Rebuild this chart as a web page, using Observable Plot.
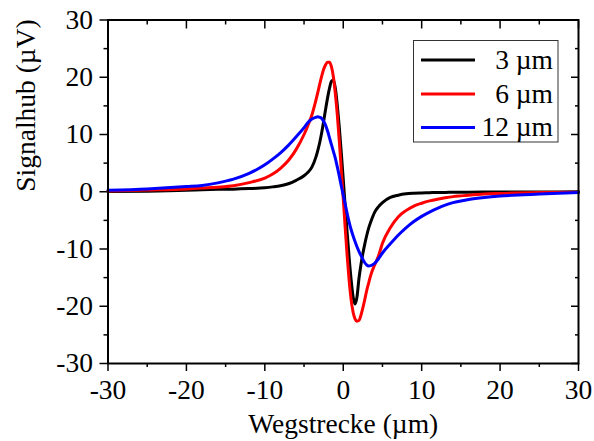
<!DOCTYPE html>
<html><head><meta charset="utf-8">
<script src="https://cdn.jsdelivr.net/npm/d3@7"></script>
<script src="https://cdn.jsdelivr.net/npm/@observablehq/plot@0.6"></script>
<style>html,body{margin:0;padding:0;background:#fff;} #chart{width:594px;height:441px;}
svg text{font-family:"Liberation Serif","DejaVu Serif",serif !important;}</style>
</head><body><div id="chart"></div>
<script>
// x positions (µm)
const xs = [-30, -25, -20, -18, -16, -14, -12, -10, -9, -8, -7, -6, -5, -4.5, -4, -3.5, -3.25, -3, -2.75, -2.5, -2.25, -2, -1.75, -1.5, -1.25, -1, -0.75, -0.5, -0.25, 0, 0.25, 0.5, 0.75, 1, 1.25, 1.5, 1.75, 2, 2.25, 2.5, 2.75, 3, 3.25, 3.5, 4, 4.5, 5, 6, 7, 8, 9, 10, 11, 12, 13, 14, 15, 16, 18, 20, 25, 30];
// 3 µm (black)
const black3 = [0.05, 0.1, 0.25, 0.35, 0.42, 0.45, 0.55, 0.7, 0.85, 1.05, 1.4, 2.0, 2.8, 3.4, 4.3, 6.0, 7.2, 8.6, 10.3, 12.3, 14.4, 16.4, 18.1, 19.3, 19.5, 18.0, 15.0, 11.2, 6.8, 2.2, -2.6, -7.2, -11.5, -15.3, -18.3, -19.6, -18.4, -15.2, -12.8, -10.8, -9.1, -7.6, -6.3, -5.3, -3.6, -2.6, -1.9, -1.0, -0.6, -0.35, -0.25, -0.2, -0.16, -0.12, -0.11, -0.1, -0.09, -0.08, -0.06, -0.05, -0.03, -0.02];
// 6 µm (red)
const red6 = [0.15, 0.3, 0.5, 0.65, 0.8, 1.05, 1.6, 2.4, 3.1, 4.1, 5.45, 7.4, 10.0, 11.6, 13.4, 15.9, 17.3, 18.8, 20.2, 21.4, 22.2, 22.6, 22.6, 21.8, 20.0, 17.0, 13.3, 8.8, 3.8, -1.2, -6.3, -11.2, -15.5, -18.8, -21.0, -22.2, -22.6, -22.5, -21.6, -20.3, -18.8, -17.2, -15.9, -14.6, -12.8, -11.2, -9.0, -6.3, -4.4, -3.3, -2.5, -2.0, -1.6, -1.3, -1.05, -0.85, -0.72, -0.6, -0.4, -0.3, -0.15, -0.1];
// 12 µm (blue)
const blue12 = [0.25, 0.5, 0.9, 1.1, 1.55, 2.2, 3.2, 4.7, 5.7, 6.8, 8.1, 9.6, 11.2, 12.1, 12.7, 13.0, 13.1, 13.0, 12.8, 12.3, 11.6, 10.6, 9.4, 8.2, 7.0, 5.8, 4.3, 2.7, 1.0, -0.6, -2.2, -3.8, -5.3, -6.6, -7.7, -8.7, -9.6, -10.4, -11.1, -11.8, -12.4, -12.8, -12.95, -12.9, -12.5, -11.7, -10.7, -9.1, -7.6, -6.3, -5.2, -4.3, -3.55, -2.9, -2.35, -1.9, -1.6, -1.35, -1.0, -0.75, -0.4, -0.15];

const seriesNames = ["3 µm", "6 µm", "12 µm"];
const seriesColors = ["#000000", "#ff0000", "#0000ff"];
const majorTicks = [-30, -20, -10, 0, 10, 20, 30];
const minorTicks = [-25, -15, -5, 5, 15, 25];
const xLabel = "Wegstrecke (µm)";
const yLabel = "Signalhub (µV)";

const valueLists = [black3, red6, blue12];
const data = seriesNames.flatMap((name, i) => xs.map((x, j) => ({series: name, x, y: valueLists[i][j]})));

const font = "'Liberation Serif', 'DejaVu Serif', serif";
const fs = 27.5;
const W = 594, H = 441, mL = 107.5, mR = 16, mT = 19.5, mB = 78;
const fmt = d => String(d);

const plot = Plot.plot({
  width: W, height: H,
  marginLeft: mL, marginRight: mR, marginTop: mT, marginBottom: mB,
  style: {fontFamily: font, fontSize: fs + "px", color: "#000", background: "#fff"},
  x: {domain: [-30, 30]},
  y: {domain: [-30, 30]},
  color: {domain: seriesNames, range: seriesColors},
  marks: [
    Plot.axisX({ticks: majorTicks, tickSize: 8, tickPadding: 8, tickFormat: fmt, fontSize: fs, label: null, strokeWidth: 1.5}),
    Plot.axisX({ticks: minorTicks, tickSize: 4, text: null, label: null, strokeWidth: 1.5}),
    Plot.axisX({anchor: "top", ticks: majorTicks, tickSize: -8, text: null, label: null, strokeWidth: 1.5}),
    Plot.axisX({anchor: "top", ticks: minorTicks, tickSize: -4, text: null, label: null, strokeWidth: 1.5}),
    Plot.axisY({ticks: majorTicks, tickSize: 8, tickPadding: 7, tickFormat: fmt, fontSize: fs, label: null, strokeWidth: 1.5}),
    Plot.axisY({ticks: minorTicks, tickSize: 4, text: null, label: null, strokeWidth: 1.5}),
    Plot.axisY({anchor: "right", ticks: majorTicks, tickSize: -8, text: null, label: null, strokeWidth: 1.5}),
    Plot.axisY({anchor: "right", ticks: minorTicks, tickSize: -4, text: null, label: null, strokeWidth: 1.5}),
    Plot.line(data, {x: "x", y: "y", z: "series", stroke: "series", strokeWidth: 3, curve: "monotone-x"}),
    Plot.frame({stroke: "#000", strokeWidth: 2}),
    Plot.text([xLabel], {text: d => d, frameAnchor: "bottom", dy: 61, fontSize: fs, lineAnchor: "middle"}),
    Plot.text([yLabel], {text: d => d, frameAnchor: "left", dx: -82.3, rotate: -90, fontSize: fs, lineAnchor: "middle"})
  ]
});
document.getElementById("chart").appendChild(plot);

// Legend (boxed, upper right)
const svg = d3.select(plot);
const lg = svg.append("g").attr("font-family", font).attr("font-size", fs);
lg.append("rect").attr("x", 413.5).attr("y", 40.5).attr("width", 144.5).attr("height", 101.5)
  .attr("fill", "#fff").attr("stroke", "#333").attr("stroke-width", 1);
const rowY = [60, 94, 127.5];
seriesNames.forEach((name, i) => {
  lg.append("line").attr("x1", 421).attr("x2", 475).attr("y1", rowY[i]).attr("y2", rowY[i])
    .attr("stroke", seriesColors[i]).attr("stroke-width", 3);
  lg.append("text").attr("x", 553).attr("y", rowY[i]).attr("dy", "0.32em")
    .attr("text-anchor", "end").attr("fill", "#000").text(name);
});
</script>
</body></html>
